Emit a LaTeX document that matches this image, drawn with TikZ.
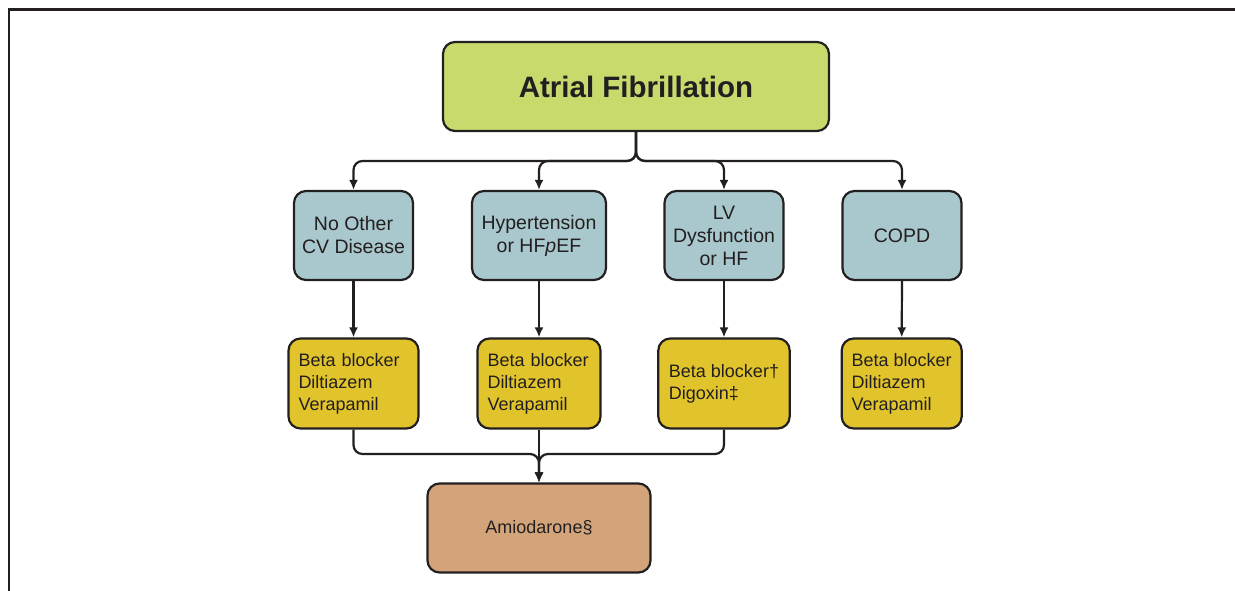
\documentclass[tikz,border=0pt]{standalone}
\usepackage{fontspec}
\setmainfont{Liberation Sans}
\usetikzlibrary{arrows.meta}
\usetikzlibrary{positioning}
\definecolor{AFGreen}{HTML}{C8DA6C}
\definecolor{CondBlue}{HTML}{A9C8CD}
\definecolor{DrugYellow}{HTML}{E1C42C}
\definecolor{AmioBrown}{HTML}{D3A479}
\definecolor{InkGray}{HTML}{231F20}
\tikzset{
  box/.style={draw=InkGray, line width=2.2bp, rounded corners=12bp,
    text=InkGray, inner sep=0pt, minimum height=89bp},
  afbox/.style={box, fill=AFGreen, minimum width=386bp,
    font=\fontsize{29.5bp}{34bp}\selectfont\bfseries},
  condbox/.style={box, fill=CondBlue, minimum width=119bp, align=center,
    font=\fontsize{19.5bp}{23bp}\selectfont},
  drugbox/.style={box, fill=DrugYellow, minimum height=90bp, align=left,
    font=\fontsize{18bp}{22bp}\selectfont},
  amiobox/.style={box, fill=AmioBrown, minimum width=223bp,
    font=\fontsize{18bp}{22bp}\selectfont},
  conn/.style={draw=InkGray, line width=2.2bp, rounded corners=9bp,
    -{Latex[length=10bp,width=9bp]}},
}

\begin{document}
\begin{tikzpicture}[x=1bp, y=-1bp]
  \useasboundingbox (0,0) rectangle (1235,591);
  \draw[InkGray, line width=2.2bp] (9,591) -- (9,9.5) -- (1235,9.5);

  \node[afbox] (af) at (636,86.5) {Atrial Fibrillation};

  % conditions
  \node[condbox] (nocv) at (353.5,235.5) {No Other\\CV Disease};
  \node[condbox, minimum width=134bp] (htn) at (539,235.5) {Hypertension\\or HF\textit{p}EF};
  \node[condbox] (lvd) at (724,235.5) {LV\\Dysfunction\\or HF};
  \node[condbox] (copd) at (902,235.5) {COPD};

  % rate control drugs
  \node[drugbox, inner xsep=10bp, text width=110bp] (rx1) at (353.5,383.5)
    {Beta blocker\\Diltiazem\\Verapamil};
  \node[drugbox, inner xsep=10bp, text width=103bp] (rx2) at (539,383.5)
    {Beta blocker\\Diltiazem\\Verapamil};
  \node[drugbox, minimum width=131.4bp] (rx3) at (724,383.5)
    {Beta blocker†\\Digoxin‡};
  \node[drugbox, minimum width=120bp] (rx4) at (901.7,383.5)
    {Beta blocker\\Diltiazem\\Verapamil};

  \node[amiobox] (amio) at (539,528) {Amiodarone§};

  \coordinate (topbus) at (636,161);
  \coordinate (botbus) at (539,454);

  \foreach \c in {nocv,htn,lvd,copd}{%
    \draw[conn] (af.south) -- (topbus) -| (\c.north);
  }
  \foreach \c/\r in {nocv/rx1,htn/rx2,lvd/rx3,copd/rx4}{%
    \draw[conn] (\c.south) -- (\r.north);
  }

  \draw[conn] (rx1.south) |- (botbus) -- (amio.north);
  \draw[conn] (rx3.south) |- (botbus) -- (amio.north);
  \draw[conn] (rx2.south) -- (amio.north);
\end{tikzpicture}
\end{document}
